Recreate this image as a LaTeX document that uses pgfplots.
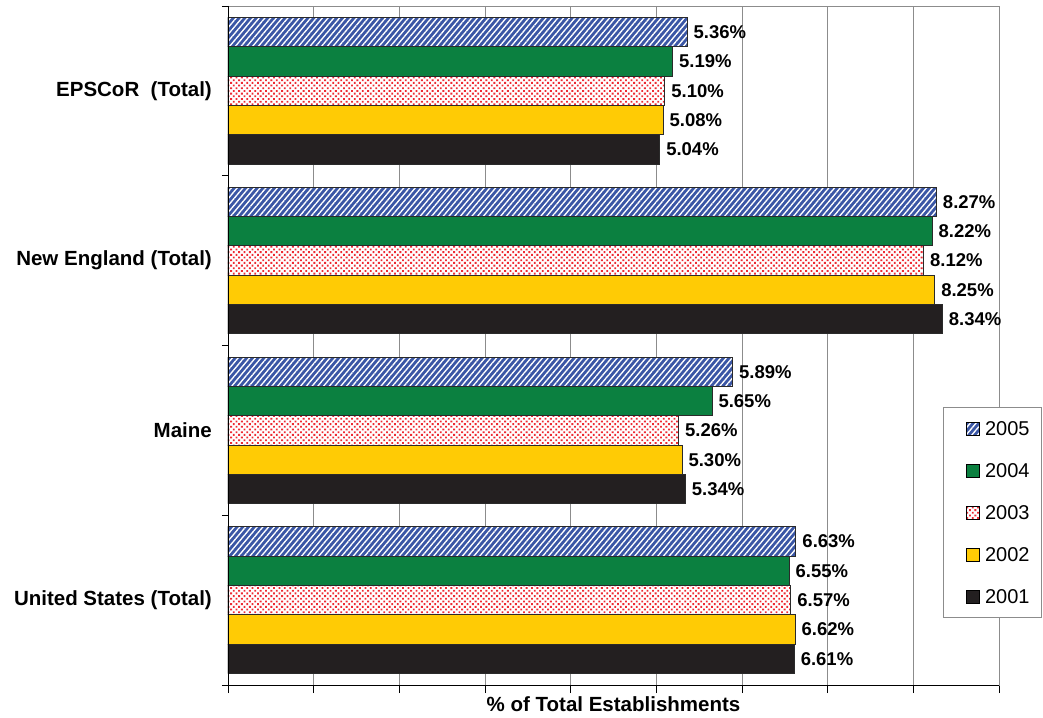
\documentclass[border=0pt]{standalone}
\usepackage{fontspec}
\setmainfont{Liberation Sans}
\usepackage{pgfplots}
\pgfplotsset{compat=1.18}
\usetikzlibrary{patterns.meta}

\definecolor{c2005}{HTML}{3A56A5}
\definecolor{c2004}{HTML}{0B8040}
\definecolor{c2003}{HTML}{EE2A32}
\definecolor{c2002}{HTML}{FFCB05}
\definecolor{c2001}{HTML}{231F20}
\definecolor{barline}{HTML}{2A2A2A}
\definecolor{gridgray}{HTML}{8C8C8C}

\pgfplotsset{
  sqleg/.style={legend image code/.code={%
    \path (0pt,0pt);
    \draw[##1,draw=black,line width=0.8pt] (12pt,-6.5pt) rectangle (25pt,6.5pt);}},
}

% share of total establishments (%), category positions: 0 = United States, 3 = EPSCoR
\pgfplotstableread{
pos y2005 y2004 y2003 y2002 y2001
0   6.63  6.55  6.57  6.62  6.61
1   5.89  5.65  5.26  5.30  5.34
2   8.27  8.22  8.12  8.25  8.34
3   5.36  5.19  5.10  5.08  5.04
}\shares

\begin{document}
\begin{tikzpicture}[x=1pt,y=1pt]
\useasboundingbox (-228,-32) rectangle (815,685);
\begin{axis}[
  at={(0,0)}, anchor=south west,
  scale only axis, width=771pt, height=679pt,
  xbar, bar width=29.3pt,
  xmin=0, xmax=9, ymin=-0.5, ymax=3.5,
  xtick={0,...,9}, xticklabels={},
  ytick={0,1,2,3},
  yticklabels={United States (Total), Maine, New England (Total), EPSCoR\ \ (Total)},
  minor ytick={-0.5,0.5,1.5,2.5,3.5},
  tick pos=left, tick align=outside,
  major tick length=8pt, minor tick length=6pt,
  tick style={black, line width=0.8pt},
  major y tick style={draw=none},
  xmajorgrids, grid style={gridgray, line width=0.8pt},
  axis line style={gridgray, line width=0.8pt},
  yticklabel style={font=\bfseries\fontsize{20.5}{24}\selectfont, anchor=east, inner sep=0pt, xshift=-8pt},
  xlabel={\% of Total Establishments},
  xlabel style={font=\bfseries\fontsize{20.5}{24}\selectfont, at={(axis description cs:0.5,0)}, anchor=north, inner sep=0pt, yshift=-11pt},
  point meta=x,
  nodes near coords={\pgfmathprintnumber[fixed,zerofill,precision=2,assume math mode=true]{\pgfplotspointmeta}\%},
  every node near coord/.append style={anchor=west, inner sep=0pt, xshift=6pt, text=black,
    font=\bfseries\fontsize{18.5}{22}\selectfont},
  legend style={at={(axis description cs:0.927,0.409)}, anchor=north west,
    draw=gridgray, line width=0.8pt, fill=white,
    font=\fontsize{20}{24}\selectfont,
    inner xsep=11pt, inner ysep=13.75pt, row sep=27.5pt, column sep=5pt,
    nodes={inner sep=0pt, text height=14.5pt, text depth=0pt, text width=45pt, align=left}},
  legend cell align=left,
]
\addplot[bar shift=58.6pt, sqleg, draw=barline, line width=1pt,
  preaction={fill=c2005},
  pattern={Lines[angle=50,distance=4.4pt,line width=1.35pt]}, pattern color=white]
  table[x=y2005, y=pos] {\shares};
\addlegendentry{2005}
\addplot[bar shift=29.3pt, sqleg, fill=c2004, draw=barline, line width=1pt]
  table[x=y2004, y=pos] {\shares};
\addlegendentry{2004}
\addplot[bar shift=0pt, sqleg, draw=barline, line width=1pt,
  preaction={fill=white},
  pattern={Dots[angle=45,distance=3.8pt,radius=1.3pt]}, pattern color=c2003]
  table[x=y2003, y=pos] {\shares};
\addlegendentry{2003}
\addplot[bar shift=-29.3pt, sqleg, fill=c2002, draw=barline, line width=1pt]
  table[x=y2002, y=pos] {\shares};
\addlegendentry{2002}
\addplot[bar shift=-58.6pt, sqleg, fill=c2001, draw=barline, line width=1pt]
  table[x=y2001, y=pos] {\shares};
\addlegendentry{2001}
\draw[black, line width=0.9pt] (rel axis cs:0,1) -- (rel axis cs:0,0) -- (rel axis cs:1,0);
\end{axis}
\end{tikzpicture}
\end{document}
